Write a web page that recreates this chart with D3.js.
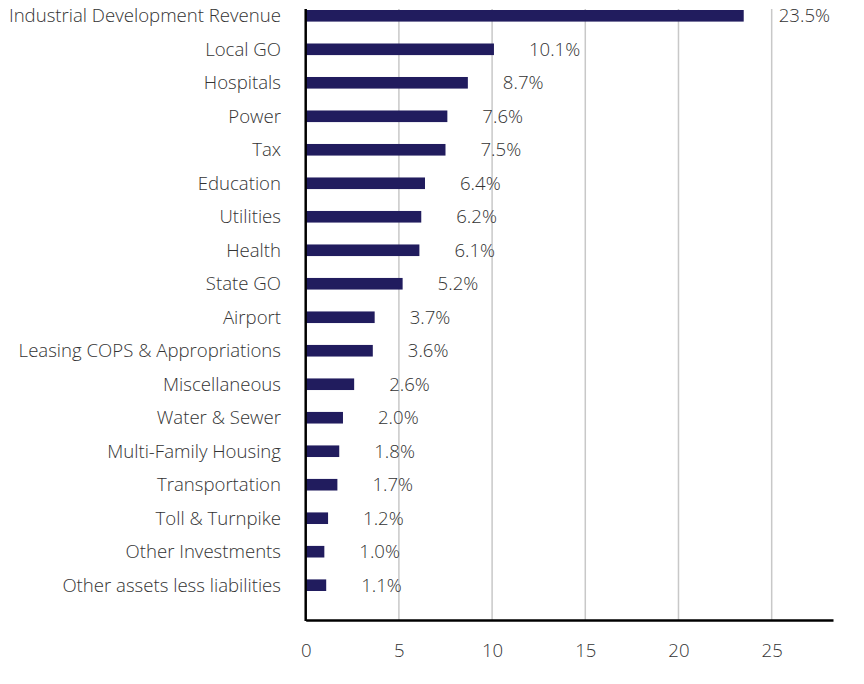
<!DOCTYPE html>
<html><head><meta charset="utf-8">
<script src="https://cdn.jsdelivr.net/npm/d3@7"></script>
<style>
body{margin:0;background:#fff;}
text{font-family:"Open Sans",sans-serif;}
</style></head><body>
<svg id="c" width="864" height="684"></svg>
<script>
const categories = ["Industrial Development Revenue","Local GO","Hospitals","Power","Tax","Education","Utilities","Health","State GO","Airport","Leasing COPS & Appropriations","Miscellaneous","Water & Sewer","Multi-Family Housing","Transportation","Toll & Turnpike","Other Investments","Other assets less liabilities"];
const values = [23.5,10.1,8.7,7.6,7.5,6.4,6.2,6.1,5.2,3.7,3.6,2.6,2.0,1.8,1.7,1.2,1.0,1.1];
const xTicks = [0,5,10,15,20,25];

(function(){
const svg = d3.select("#c");
const pLeft = 305.7, pRight = 833, pTop = 9, pBottom = 620;
const fs = 18.6, col = "#333333";
const x = d3.scaleLinear().domain([0, 28.29]).range([pLeft, pRight]);
const y = d3.scaleBand().domain(categories).range([10, 591]).paddingInner(1 - 11.6/33.5).paddingOuter(0);

svg.append("g").selectAll("line").data(xTicks.filter(t=>t>0)).join("line")
  .attr("x1", d=>x(d)).attr("x2", d=>x(d)).attr("y1", pTop).attr("y2", pBottom)
  .attr("stroke", "#c8c8c8").attr("stroke-width", 1.5);

svg.append("g").selectAll("rect").data(values).join("rect")
  .attr("x", x(0)).attr("y", (d,i)=>y(categories[i]))
  .attr("width", d=>x(d)-x(0)).attr("height", y.bandwidth())
  .attr("fill", "#211c5e");

svg.append("g").selectAll("text").data(values).join("text")
  .attr("x", d=>x(d)+35).attr("y", (d,i)=>y(categories[i]) + y.bandwidth()/2)
  .attr("dy", "0.35em").attr("font-size", fs).attr("font-weight", 300).attr("fill", col)
  .text(d=>d.toFixed(1)+"%");

svg.append("g").selectAll("text").data(categories).join("text")
  .attr("x", 281).attr("y", d=>y(d)+y.bandwidth()/2)
  .attr("dy", "0.35em").attr("text-anchor", "end").attr("font-size", fs).attr("font-weight", 300).attr("fill", col)
  .text(d=>d);

const xAxis = d3.axisBottom(x).tickValues(xTicks).tickSize(0).tickPadding(24).tickFormat(d3.format("d"));
const gx = svg.append("g").attr("transform", `translate(0,${pBottom})`).call(xAxis);
gx.select(".domain").attr("stroke", "#000").attr("stroke-width", 2.5);
gx.selectAll("text").attr("font-size", fs).attr("font-weight", 300).attr("fill", col).attr("font-family", "Open Sans");
svg.append("line").attr("x1", pLeft).attr("x2", pLeft).attr("y1", pTop).attr("y2", pBottom+1)
  .attr("stroke", "#000").attr("stroke-width", 2.5);
})();
</script>
</body></html>
